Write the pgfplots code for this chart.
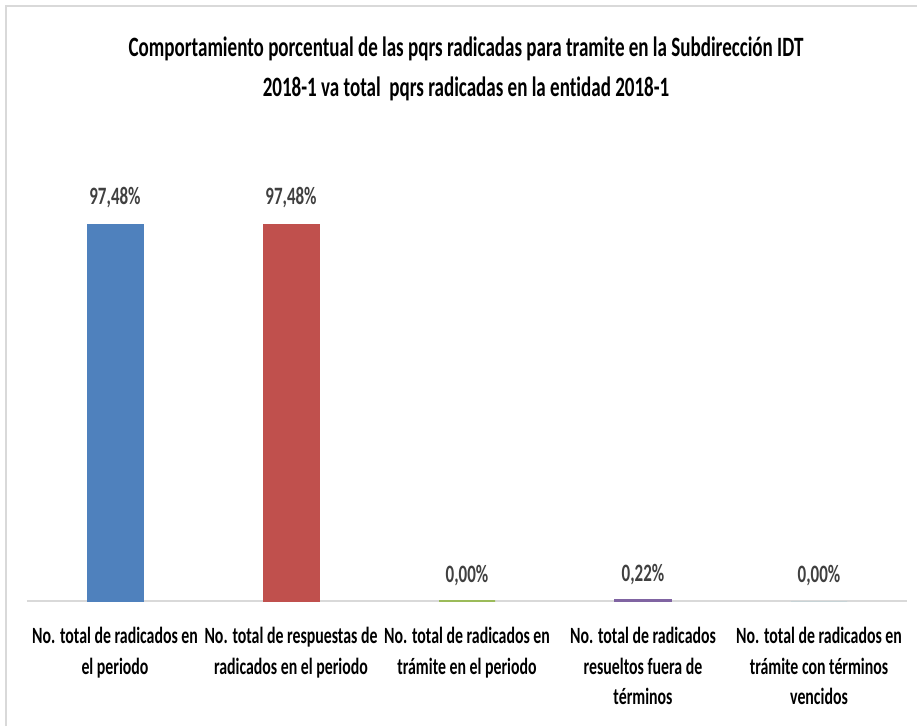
\documentclass[border=0pt]{standalone}
\usepackage{pgfplots}
\pgfplotsset{compat=1.18}
\usepackage{fontspec}
\setmainfont{Carlito}[FakeStretch=0.68, Ligatures=NoCommon]
\definecolor{cblue}{HTML}{4F81BD}
\definecolor{cred}{HTML}{C0504D}
\definecolor{cgreen}{HTML}{9BBB59}
\definecolor{cpurple}{HTML}{8064A2}
\definecolor{caqua}{HTML}{4BACC6}
\definecolor{gridgray}{HTML}{D9D9D9}
\definecolor{lbl}{HTML}{404040}
\begin{document}
\begin{tikzpicture}
\path[use as bounding box] (0,0) rectangle (917pt,726pt);
\draw[gridgray, line width=1.5pt] (6pt,0pt) -- (6pt,720pt) -- (917pt,720pt);
\node[anchor=base, inner sep=0, font=\fontsize{28}{40}\selectfont\bfseries, text=black] at (466pt,669pt)
  {Comportamiento porcentual de las pqrs radicadas para tramite en la Subdirección IDT};
\node[anchor=base, inner sep=0, font=\fontsize{28}{40}\selectfont\bfseries, text=black] at (466pt,629pt)
  {2018-1 va total\ \ pqrs radicadas en la entidad 2018-1};
\begin{axis}[
  at={(27pt,125pt)}, anchor=south west,
  scale only axis, width=880pt, height=386.8pt,
  xmin=-0.5, xmax=4.5, ymin=0, ymax=100,
  ybar, bar width=56pt, bar shift=0pt,
  axis x line*=bottom, axis y line=none,
  x axis line style={draw=gridgray, line width=1.5pt},
  xtick={0,1,2,3,4}, major tick length=0pt,
  xticklabels={{No. total de radicados en\\el periodo},
               {No. total de respuestas de\\radicados en el periodo},
               {No. total de radicados en\\trámite en el periodo},
               {No. total de radicados\\resueltos fuera de\\términos},
               {No. total de radicados en\\trámite con términos\\vencidos}},
  xticklabel style={align=center, anchor=north, inner sep=0pt, yshift=-26pt,
     font=\fontsize{23.3}{30.5}\selectfont\bfseries, text=black},
  point meta=explicit symbolic,
  nodes near coords,
  every node near coord/.append style={anchor=base, inner sep=0pt, yshift=19pt,
     font=\fontsize{25}{28}\selectfont\bfseries, text=lbl},
  clip=false,
]
\addplot[fill=cblue, draw=cblue] coordinates {(0,97.48) [97,48\%]};
\addplot[fill=cred, draw=cred] coordinates {(1,97.48) [97,48\%]};
\addplot[fill=cgreen, draw=cgreen, line width=2pt] coordinates {(2,0.0) [0,00\%]};
\addplot[fill=cpurple, draw=cpurple, line width=2pt] coordinates {(3,0.22) [0,22\%]};
\addplot[fill=caqua, draw=none] coordinates {(4,0.0) [0,00\%]};
\end{axis}
\end{tikzpicture}
\end{document}
